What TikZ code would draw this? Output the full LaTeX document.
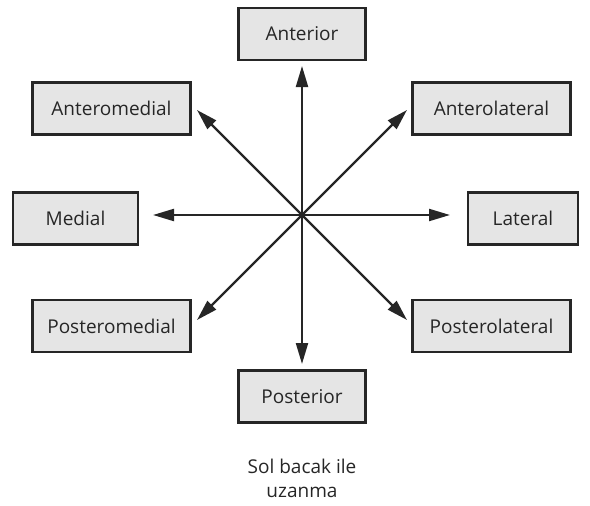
\documentclass[tikz,border=0pt]{standalone}
\usepackage{fontspec}
\setmainfont{Open Sans}
\usetikzlibrary{arrows.meta}
\begin{document}
\begin{tikzpicture}[x=1pt,y=-1pt,
  dirbox/.style={draw=black!85,line width=2.4pt,fill=black!10,minimum height=52pt,inner sep=0pt,font=\fontsize{19}{23}\selectfont,text=black!85},
  dirarrow/.style={line width=2.2pt,draw=black!85,-{Triangle[length=21pt,width=12pt]}}]
\useasboundingbox (0,0) rectangle (590,506);
\node[dirbox,minimum width=127pt] (ant) at (302,34) {Anterior};
\node[dirbox,minimum width=158pt] (am) at (111.5,108.5) {Anteromedial};
\node[dirbox,minimum width=158pt] (al) at (491.5,108.5) {Anterolateral};
\node[dirbox,minimum width=125pt] (med) at (75.5,218.5) {Medial};
\node[dirbox,minimum width=110pt] (lat) at (523,218.5) {Lateral};
\node[dirbox,minimum width=158pt] (pm) at (111.5,326) {Posteromedial};
\node[dirbox,minimum width=158pt] (pl) at (491.5,326) {Posterolateral};
\node[dirbox,minimum width=127pt] (post) at (302,396.5) {Posterior};
\node[font=\fontsize{19}{24}\selectfont,text=black!85,align=center] (cap) at (302,478) {Sol bacak ile\\uzanma};
\coordinate (c) at (302,215);
\coordinate (tN) at (302,66);
\coordinate (tS) at (302,364);
\coordinate (tW) at (153,215);
\coordinate (tE) at (450,215);
\coordinate (tNW) at (197,110);
\coordinate (tNE) at (407,110);
\coordinate (tSW) at (197,320);
\coordinate (tSE) at (407,320);
\foreach \t in {tN,tS,tW,tE,tNW,tNE,tSW,tSE} \draw[dirarrow] (c) -- (\t);
\end{tikzpicture}
\end{document}
